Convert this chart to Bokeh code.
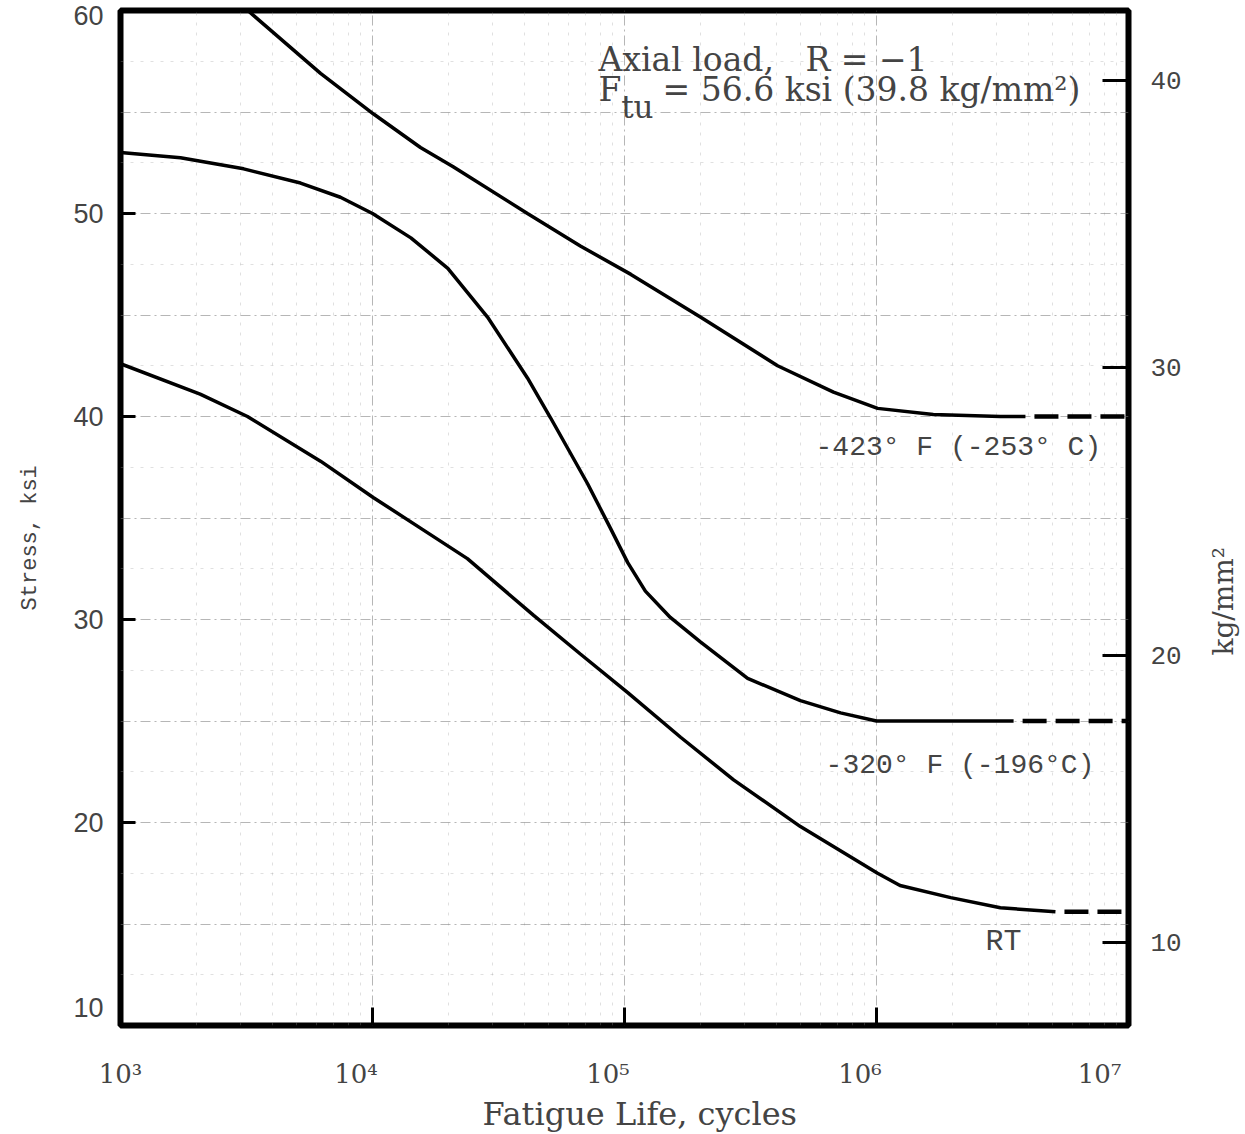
import numpy as np
from bokeh.plotting import figure
from bokeh.models import Range1d, LinearAxis, FixedTicker, Label
from bokeh.layouts import row
from bokeh.embed import file_html
from bokeh.resources import INLINE

# ---------------- data ----------------
# -423 F (-253 C) curve: cycles, stress (ksi)
cyc_423 = [3.2e3, 6.22e3, 1.01e4, 1.55e4, 2.09e4, 4.12e4, 6.68e4, 1.06e5, 2.0e5,
           4.05e5, 6.75e5, 1.01e6, 1.68e6, 3.1e6, 3.9e6]
ksi_423 = [60.0, 56.9, 54.9, 53.25, 52.3, 50.0, 48.4, 47.0, 44.9,
           42.5, 41.2, 40.4, 40.1, 40.0, 40.0]
ext_cyc_423 = [3.9e6, 1.0e7]
ext_ksi_423 = [40.0, 40.0]

# -320 F (-196 C) curve
cyc_320 = [1.0e3, 1.73e3, 3.08e3, 5.18e3, 7.46e3, 1.0e4, 1.42e4, 1.99e4, 2.86e4,
           4.12e4, 5.08e4, 7.13e4, 8.79e4, 1.03e5, 1.21e5, 1.52e5, 2.0e5, 3.08e5,
           4.99e5, 7.2e5, 1.0e6, 3.5e6]
ksi_320 = [53.0, 52.75, 52.2, 51.5, 50.8, 50.0, 48.8, 47.3, 44.9,
           41.9, 39.95, 36.7, 34.5, 32.8, 31.4, 30.1, 28.9, 27.1,
           26.0, 25.4, 25.0, 25.0]
ext_cyc_320 = [3.5e6, 1.0e7]
ext_ksi_320 = [25.0, 25.0]

# RT curve
cyc_rt = [1.0e3, 2.07e3, 3.19e3, 6.22e3, 1.01e4, 1.55e4, 2.38e4, 4.36e4, 6.68e4,
          1.03e5, 1.67e5, 2.71e5, 4.99e5, 1.01e6, 1.24e6, 1.97e6, 3.1e6, 5.13e6]
ksi_rt = [42.6, 41.1, 40.0, 37.8, 36.0, 34.5, 33.0, 30.2, 28.3,
          26.4, 24.2, 22.1, 19.8, 17.5, 16.9, 16.3, 15.8, 15.6]
ext_cyc_rt = [5.13e6, 1.0e7]
ext_ksi_rt = [15.6, 15.6]

# axes
x_ticks = [1e3, 1e4, 1e5, 1e6, 1e7]
x_tick_text = ["10³", "10⁴", "10⁵", "10⁶", "10⁷"]
y_ticks = [10, 20, 30, 40, 50, 60]
y_tick_text = ["10", "20", "30", "40", "50", "60"]
kg_ticks = [10, 20, 30, 40]

# texts
title1 = "Axial load,\u00a0\u00a0\u00a0R = −1"
title2_F = "F"
title2_sub = "tu"
title2_rest = "= 56.6 ksi (39.8 kg/mm²)"
lbl_423 = "-423° F (-253° C)"
lbl_320 = "-320° F (-196°C)"
lbl_rt = "RT"
kg_label = "kg/mm²"

NB = "\u00a0"

# ---------------- main figure ----------------
p = figure(x_axis_type="log", x_range=Range1d(1e3, 1e7), y_range=Range1d(10, 60),
           frame_width=1008, frame_height=1015,
           min_border_left=120, min_border_right=72, min_border_top=10, min_border_bottom=109,
           output_backend="svg", toolbar_location=None,
           background_fill_color="white", border_fill_color="white")

p.outline_line_color = "black"
p.outline_line_width = 6

# grid (faint graph-paper style)
decades = [1e3, 1e4, 1e5, 1e6, 1e7]
minor_x = [m * d for d in [1e3, 1e4, 1e5, 1e6] for m in range(2, 10)]
p.xgrid.ticker = FixedTicker(ticks=decades, minor_ticks=minor_x)
p.ygrid.ticker = FixedTicker(ticks=[15, 20, 25, 30, 35, 40, 45, 50, 55],
                             minor_ticks=[12.5, 17.5, 22.5, 27.5, 32.5, 37.5, 42.5, 47.5, 52.5, 57.5])
for g in (p.xgrid[0], p.ygrid[0]):
    g.grid_line_color = "#7a7a7a"
    g.grid_line_alpha = 0.55
    g.grid_line_dash = "10 4 2 4"
    g.grid_line_width = 1
    g.minor_grid_line_color = "#999999"
    g.minor_grid_line_alpha = 0.3
    g.minor_grid_line_dash = "3 7"

# bottom axis (labels padded so the "10" sits left of the tick as in the reference)
x_pad = [0, 4, 4, 4, 7]
xa = p.xaxis[0]
xa.ticker = FixedTicker(ticks=x_ticks)
xa.major_label_overrides = {float(t): s + NB * k for t, s, k in zip(x_ticks, x_tick_text, x_pad)}
xa.major_label_text_font = "DejaVu Serif"
xa.major_label_text_font_size = "26px"
xa.major_label_standoff = 33
xa.major_tick_in = 18
xa.major_tick_out = 0
xa.major_tick_line_width = 3
xa.minor_tick_line_color = None
xa.axis_line_color = None
xa.axis_label = NB * 3 + "Fatigue Life, cycles"
xa.axis_label_text_font = "DejaVu Serif"
xa.axis_label_text_font_size = "32px"
xa.axis_label_text_font_style = "normal"
xa.axis_label_standoff = 3

# left axis
y_over = {}
for t, s in zip(y_ticks, y_tick_text):
    y_over[t] = (s + "\n") if t == 10 else s
ya = p.yaxis[0]
ya.ticker = FixedTicker(ticks=y_ticks)
ya.major_label_overrides = y_over
ya.major_label_text_font = "Liberation Sans"
ya.major_label_text_font_size = "27px"
ya.major_label_standoff = 17
ya.major_tick_in = 15
ya.major_tick_out = 0
ya.major_tick_line_width = 3
ya.minor_tick_line_color = None
ya.axis_line_color = None
ya.axis_label = "Stress, ksi" + NB * 3
ya.axis_label_text_font = "Liberation Mono"
ya.axis_label_text_font_size = "22px"
ya.axis_label_text_font_style = "normal"
ya.axis_label_standoff = 27

# right axis kg/mm^2 (ticks only; its title sits in the narrow strip figure)
p.extra_y_ranges = {"kg": Range1d(7.1, 42.45)}
ra = LinearAxis(y_range_name="kg", ticker=FixedTicker(ticks=kg_ticks))
ra.major_label_text_font = "Liberation Mono"
ra.major_label_text_font_size = "26px"
ra.major_label_standoff = 22
ra.major_tick_in = 26
ra.major_tick_out = 0
ra.major_tick_line_width = 3
ra.minor_tick_line_color = None
ra.axis_line_color = None
p.add_layout(ra, "right")

# curves
lw = 3.5
p.line(cyc_423, ksi_423, line_color="black", line_width=lw)
p.line(cyc_320, ksi_320, line_color="black", line_width=lw)
p.line(cyc_rt, ksi_rt, line_color="black", line_width=lw)
for xs, ys in ((ext_cyc_423, ext_ksi_423), (ext_cyc_320, ext_ksi_320), (ext_cyc_rt, ext_ksi_rt)):
    p.line(xs, ys, line_color="black", line_width=4.5, line_dash="24 9", line_dash_offset=24)

# annotations
serif = "DejaVu Serif"
mono = "Liberation Mono"
p.add_layout(Label(x=7.89e4, y=57.6, text=title1, text_baseline="middle",
                   text_font=serif, text_font_size="33px"))
p.add_layout(Label(x=7.89e4, y=56.1, text=title2_F, text_baseline="middle",
                   text_font=serif, text_font_size="33px"))
p.add_layout(Label(x=9.7e4, y=55.25, text=title2_sub, text_baseline="middle",
                   text_font=serif, text_font_size="31px"))
p.add_layout(Label(x=1.416e5, y=56.1, text=title2_rest, text_baseline="middle",
                   text_font=serif, text_font_size="33px"))

p.add_layout(Label(x=5.73e5, y=38.47, text=lbl_423, text_baseline="middle",
                   text_font=mono, text_font_size="28px"))
p.add_layout(Label(x=6.28e5, y=22.81, text=lbl_320, text_baseline="middle",
                   text_font=mono, text_font_size="28px"))
p.add_layout(Label(x=2.71e6, y=14.09, text=lbl_rt, text_baseline="middle",
                   text_font=mono, text_font_size="30px"))

# ---------------- narrow strip carrying the right-axis title ----------------
side = figure(x_range=Range1d(0, 1), y_range=p.y_range,
              frame_width=45, frame_height=1015,
              min_border_left=0, min_border_right=0, min_border_top=10, min_border_bottom=109,
              x_axis_location=None, y_axis_location=None,
              output_backend="svg", toolbar_location=None,
              background_fill_color="white", border_fill_color="white")
side.outline_line_color = None
side.xgrid.visible = False
side.ygrid.visible = False
side.add_layout(Label(x=0.5, y=30.9, text=kg_label, angle=np.pi / 2,
                      text_align="center", text_baseline="middle",
                      text_font=serif, text_font_size="28px"))

open("out.html", "w").write(file_html(row(p, side), INLINE))
